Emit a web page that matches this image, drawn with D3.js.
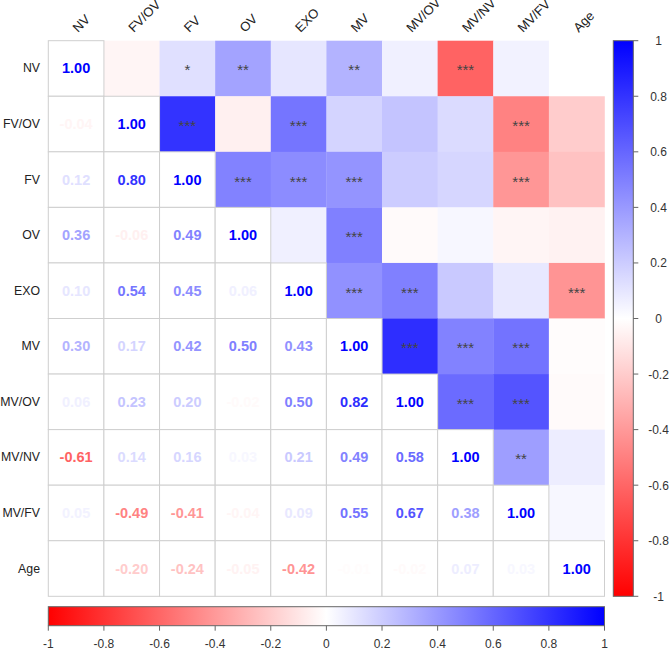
<!DOCTYPE html>
<html>
<head>
<meta charset="utf-8">
<script src="https://cdn.jsdelivr.net/npm/d3@7"></script>
<style>
  html, body { margin: 0; padding: 0; background: #fff; }
  svg { display: block; font-family: "Liberation Sans", Arial, sans-serif; }
</style>
</head>
<body>
<svg id="chart" width="669" height="649"></svg>
<script>
// ---- Data ----
const labels = ["NV", "FV/OV", "FV", "OV", "EXO", "MV", "MV/OV", "MV/NV", "MV/FV", "Age"];

const corrNV   = [1.00, -0.04, 0.12, 0.36, 0.10, 0.30, 0.06, -0.61, 0.05, 0.00];
const corrFVOV = [-0.04, 1.00, 0.80, -0.06, 0.54, 0.17, 0.23, 0.14, -0.49, -0.20];
const corrFV   = [0.12, 0.80, 1.00, 0.49, 0.45, 0.42, 0.20, 0.16, -0.41, -0.24];
const corrOV   = [0.36, -0.06, 0.49, 1.00, 0.06, 0.50, -0.02, 0.03, -0.04, -0.05];
const corrEXO  = [0.10, 0.54, 0.45, 0.06, 1.00, 0.43, 0.50, 0.21, 0.09, -0.42];
const corrMV   = [0.30, 0.17, 0.42, 0.50, 0.43, 1.00, 0.82, 0.49, 0.55, -0.01];
const corrMVOV = [0.06, 0.23, 0.20, -0.02, 0.50, 0.82, 1.00, 0.58, 0.67, -0.02];
const corrMVNV = [-0.61, 0.14, 0.16, 0.03, 0.21, 0.49, 0.58, 1.00, 0.38, 0.07];
const corrMVFV = [0.05, -0.49, -0.41, -0.04, 0.09, 0.55, 0.67, 0.38, 1.00, 0.03];
const corrAge  = [0.00, -0.20, -0.24, -0.05, -0.42, -0.01, -0.02, 0.07, 0.03, 1.00];

// significance stars for the upper triangle (row, by column)
const starsNV   = ["", "", "*", "**", "", "**", "", "***", "", ""];
const starsFVOV = ["", "", "***", "", "***", "", "", "", "***", ""];
const starsFV   = ["", "", "", "***", "***", "***", "", "", "***", ""];
const starsOV   = ["", "", "", "", "", "***", "", "", "", ""];
const starsEXO  = ["", "", "", "", "", "***", "***", "", "", "***"];
const starsMV   = ["", "", "", "", "", "", "***", "***", "***", ""];
const starsMVOV = ["", "", "", "", "", "", "", "***", "***", ""];
const starsMVNV = ["", "", "", "", "", "", "", "", "**", ""];
const starsMVFV = ["", "", "", "", "", "", "", "", "", ""];
const starsAge  = ["", "", "", "", "", "", "", "", "", ""];

const legendTicks = [-1, -0.8, -0.6, -0.4, -0.2, 0, 0.2, 0.4, 0.6, 0.8, 1];

// ---- Build table ----
const corrRows = [corrNV, corrFVOV, corrFV, corrOV, corrEXO, corrMV, corrMVOV, corrMVNV, corrMVFV, corrAge];
const starRows = [starsNV, starsFVOV, starsFV, starsOV, starsEXO, starsMV, starsMVOV, starsMVNV, starsMVFV, starsAge];
const cells = [];
corrRows.forEach((row, i) => row.forEach((v, j) => {
  cells.push({ r: labels[i], c: labels[j], i, j, v, s: starRows[i][j] });
}));

// ---- Layout ----
const svg = d3.select("#chart");
const gx0 = 48.3, gx1 = 604.5, gy0 = 40.7, gy1 = 596.3;
const x = d3.scaleBand().domain(labels).range([gx0, gx1]);
const y = d3.scaleBand().domain(labels).range([gy0, gy1]);
const color = d3.scaleLinear().domain([-1, 0, 1]).range(["#FF0000", "#FFFFFF", "#0000FF"]);
const fmt = v => v.toFixed(2);

// upper triangle coloured cells
svg.append("g").selectAll("rect")
  .data(cells.filter(d => d.j > d.i))
  .join("rect")
  .attr("x", d => x(d.c)).attr("y", d => y(d.r))
  .attr("width", x.bandwidth() + 0.3).attr("height", y.bandwidth() + 0.3)
  .attr("fill", d => color(d.v));

// lower triangle + diagonal cells with grid
svg.append("g").selectAll("rect")
  .data(cells.filter(d => d.j <= d.i))
  .join("rect")
  .attr("x", d => x(d.c)).attr("y", d => y(d.r))
  .attr("width", x.bandwidth()).attr("height", y.bandwidth())
  .attr("fill", "#fff")
  .attr("stroke", "#cfcfcf").attr("stroke-width", 1);

// numbers
svg.append("g").selectAll("text")
  .data(cells.filter(d => d.j <= d.i))
  .join("text")
  .attr("x", d => x(d.c) + x.bandwidth() / 2)
  .attr("y", d => y(d.r) + y.bandwidth() / 2 + 5)
  .attr("text-anchor", "middle")
  .attr("font-size", 14.5).attr("font-weight", "bold")
  .attr("fill", d => color(d.v))
  .text(d => fmt(d.v));

// stars
svg.append("g").selectAll("text")
  .data(cells.filter(d => d.j > d.i && d.s))
  .join("text")
  .attr("x", d => x(d.c) + x.bandwidth() / 2)
  .attr("y", d => y(d.r) + y.bandwidth() / 2 + 7)
  .attr("text-anchor", "middle")
  .attr("font-size", 15)
  .attr("fill", "#444")
  .text(d => d.s);

// row labels
svg.append("g").selectAll("text")
  .data(labels).join("text")
  .attr("x", 40)
  .attr("y", d => y(d) + y.bandwidth() / 2 + 4)
  .attr("text-anchor", "end")
  .attr("font-size", 12.3).attr("fill", "#222")
  .text(d => d);

// column labels (rotated)
svg.append("g").selectAll("text")
  .data(labels).join("text")
  .attr("transform", d => `translate(${x(d) + x.bandwidth() / 2 + 2},33) rotate(-45)`)
  .attr("text-anchor", "start")
  .attr("font-size", 13).attr("fill", "#222")
  .text(d => d);

// ---- Gradients ----
const defs = svg.append("defs");
const gv = defs.append("linearGradient").attr("id", "gradV")
  .attr("x1", "0").attr("y1", "1").attr("x2", "0").attr("y2", "0");
const gh = defs.append("linearGradient").attr("id", "gradH")
  .attr("x1", "0").attr("y1", "0").attr("x2", "1").attr("y2", "0");
[gv, gh].forEach(g => {
  d3.range(0, 1.0001, 0.1).forEach(t => {
    g.append("stop").attr("offset", t).attr("stop-color", color(-1 + 2 * t));
  });
});

// right colour bar
const ly = d3.scaleLinear().domain([-1, 1]).range([gy1, gy0]);
const bx0 = 613.3, bx1 = 633.3;
svg.append("rect")
  .attr("x", bx0).attr("y", ly(1)).attr("width", bx1 - bx0).attr("height", ly(-1) - ly(1))
  .attr("fill", "url(#gradV)").attr("stroke", "#666").attr("stroke-width", 1);
const rAxis = svg.append("g");
rAxis.selectAll("line").data(legendTicks).join("line")
  .attr("x1", bx1).attr("x2", bx1 + 5)
  .attr("y1", d => ly(d)).attr("y2", d => ly(d))
  .attr("stroke", "#666");
rAxis.selectAll("text").data(legendTicks).join("text")
  .attr("x", 658.5).attr("y", d => ly(d) + 4.5)
  .attr("text-anchor", "middle").attr("font-size", 12).attr("fill", "#333")
  .text(d => String(d));

// bottom colour bar
const lx = d3.scaleLinear().domain([-1, 1]).range([gx0, gx1]);
const by0 = 606.7, by1 = 625.7;
svg.append("rect")
  .attr("x", lx(-1)).attr("y", by0).attr("width", lx(1) - lx(-1)).attr("height", by1 - by0)
  .attr("fill", "url(#gradH)").attr("stroke", "#666").attr("stroke-width", 1);
const bAxis = svg.append("g");
bAxis.selectAll("line").data(legendTicks).join("line")
  .attr("x1", d => lx(d)).attr("x2", d => lx(d))
  .attr("y1", by1).attr("y2", by1 + 5)
  .attr("stroke", "#666");
bAxis.selectAll("text").data(legendTicks).join("text")
  .attr("x", d => lx(d)).attr("y", 647.5)
  .attr("text-anchor", "middle").attr("font-size", 12).attr("fill", "#333")
  .text(d => String(d));
</script>
</body>
</html>
